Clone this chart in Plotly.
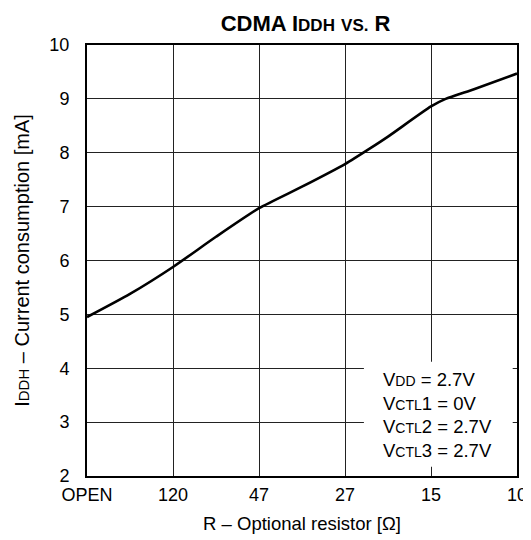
import plotly.graph_objects as go

# x tick categories (equally spaced on the chart)
resistor_labels = ['OPEN', '120', '47', '27', '15', '10']

# curve samples: position along the category axis and current in mA
curve_pos = [0, 0.5, 1, 1.5, 2, 2.5, 3, 3.3, 3.5, 4, 4.17, 4.5, 5]
curve_iddh = [4.95, 5.38, 5.88, 6.44, 6.97, 7.37, 7.79, 8.09, 8.30, 8.86, 9.0, 9.18, 9.47]

cond_lines = [
    "V<span style='font-size:14px'>DD</span> = 2.7V",
    "V<span style='font-size:14px'>CTL</span>1 = 0V",
    "V<span style='font-size:14px'>CTL</span>2 = 2.7V",
    "V<span style='font-size:14px'>CTL</span>3 = 2.7V",
]

font_family = 'Liberation Sans, Arial, sans-serif'

fig = go.Figure()
fig.add_trace(go.Scatter(
    x=curve_pos,
    y=curve_iddh,
    mode='lines',
    line=dict(color='black', width=2.6, shape='spline', smoothing=0.6),
    showlegend=False,
    hoverinfo='skip'
))

# white box behind the conditions text
fig.add_shape(
    type='rect', xref='x', yref='y',
    x0=3.22, x1=4.95, y0=2.17, y1=4.12,
    fillcolor='white', line=dict(width=0), layer='above'
)

for i, txt in enumerate(cond_lines):
    fig.add_annotation(
        x=3.42, y=3.80 - i * 0.445, xref='x', yref='y',
        text=txt, showarrow=False, xanchor='left', yanchor='middle',
        font=dict(size=18.5, color='black', family=font_family)
    )

# page body adds an 8px offset, so margins are reduced by that amount
fig.update_layout(
    width=523,
    height=532,
    margin=dict(l=79, r=14, t=37, b=64),
    paper_bgcolor='white',
    plot_bgcolor='white',
    font=dict(family=font_family, color='black', size=18),
    title=dict(
        text="<b>CDMA I<span style='font-size:17px'>DDH</span> <span style='font-size:17px'>VS.</span> R</b>",
        x=0.569, xanchor='center', y=0.972, yanchor='middle',
        font=dict(size=22, color='black')
    ),
    xaxis=dict(
        range=[0, 5],
        tickmode='array',
        tickvals=list(range(len(resistor_labels))),
        ticktext=resistor_labels,
        showgrid=True, gridcolor='#222', gridwidth=1,
        showline=True, linecolor='black', linewidth=2, mirror=True,
        zeroline=False, ticks='', ticklabelstandoff=1,
        automargin=False,
        tickfont=dict(size=18),
        title=dict(text='R – Optional resistor [Ω]', font=dict(size=18.5), standoff=13)
    ),
    yaxis=dict(
        range=[2, 10],
        dtick=1,
        showgrid=True, gridcolor='#222', gridwidth=1,
        showline=True, linecolor='black', linewidth=2, mirror=True,
        zeroline=False, ticks='', ticklabelstandoff=12,
        automargin=False,
        tickfont=dict(size=18),
        title=dict(
            text="I<span style='font-size:15px'>DDH</span> – Current consumption [mA]",
            font=dict(size=20), standoff=14
        )
    )
)

fig.write_html("out.html")
